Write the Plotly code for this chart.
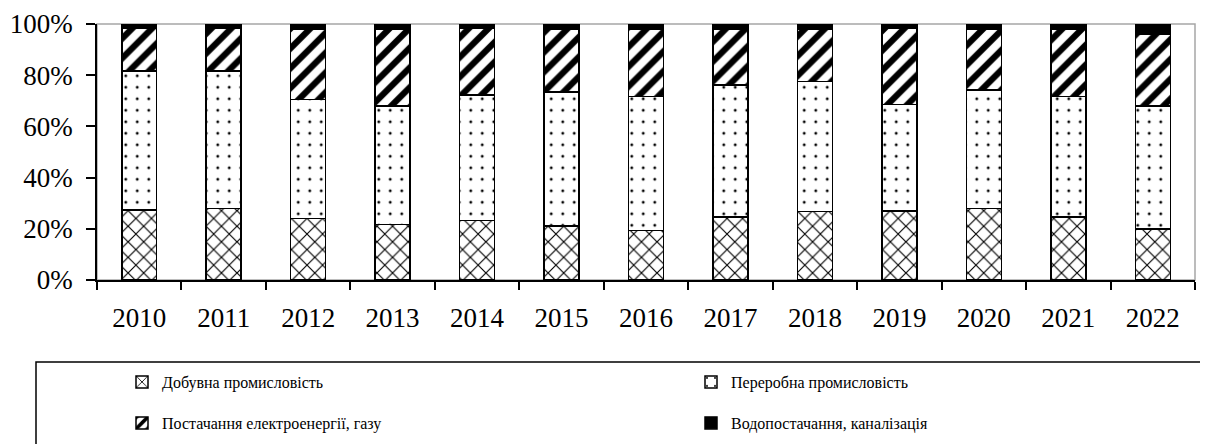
import plotly.graph_objects as go

# years on the x axis
years = ['2010', '2011', '2012', '2013', '2014', '2015', '2016',
         '2017', '2018', '2019', '2020', '2021', '2022']

# shares of each branch, %
mining = [27.3, 28.0, 24.1, 21.7, 23.2, 21.1, 19.3, 24.7, 26.7, 27.0, 28.0, 24.7, 19.9]
manufacturing = [54.3, 53.6, 46.5, 46.3, 49.1, 52.3, 52.3, 51.5, 50.8, 41.6, 46.2, 46.9, 48.1]
energy = [16.7, 16.7, 27.3, 29.9, 26.0, 24.5, 26.3, 21.7, 20.5, 29.7, 23.8, 26.4, 28.0]
water = [1.7, 1.7, 2.1, 2.1, 1.7, 2.1, 2.1, 2.1, 2.0, 1.7, 2.0, 2.0, 4.0]

names = ['Добувна промисловість', 'Переробна промисловість',
         'Постачання електроенергії, газу', 'Водопостачання, каналізація']

FONT = 'Liberation Serif'

fig = go.Figure()

line = dict(color='black', width=1.5)

fig.add_trace(go.Bar(x=years, y=mining, name=names[0], legend='legend',
                     marker=dict(color='white', line=line,
                                 pattern=dict(shape='x', size=11, solidity=0.2,
                                              fgcolor='black', bgcolor='white',
                                              fgopacity=1))))
fig.add_trace(go.Bar(x=years, y=manufacturing, name=names[1], legend='legend2',
                     marker=dict(color='white', line=line,
                                 pattern=dict(shape='.', size=11.5, solidity=0.05,
                                              fgcolor='black', bgcolor='white',
                                              fgopacity=1))))
fig.add_trace(go.Bar(x=years, y=energy, name=names[2], legend='legend3',
                     marker=dict(color='white', line=line,
                                 pattern=dict(shape='/', size=14, solidity=0.45,
                                              fgcolor='black', bgcolor='white',
                                              fgopacity=1))))
fig.add_trace(go.Bar(x=years, y=water, name=names[3], legend='legend4',
                     marker=dict(color='black', line=line)))

# the page has an 8px body margin, so the figure is 8px smaller
# pixel helpers (page coords) for the legend: plot area 97..1195 x 24..280
def px(x):
    return (x - 97) / 1098

def py(y):
    return (280 - y) / 256

leg = dict(font=dict(family=FONT, size=16, color='black'), bgcolor='rgba(0,0,0,0)',
           xanchor='left', yanchor='middle', orientation='h')

fig.update_layout(
    barmode='stack',
    barnorm='percent',
    bargap=0.586,
    width=1200, height=436,
    margin=dict(l=89, r=13, t=16, b=164, autoexpand=False),
    plot_bgcolor='white', paper_bgcolor='white',
    font=dict(family=FONT, size=27, color='black'),
    showlegend=True,
    legend=dict(leg, x=px(122), y=py(382)),
    legend2=dict(leg, x=px(691), y=py(382)),
    legend3=dict(leg, x=px(122), y=py(423)),
    legend4=dict(leg, x=px(691), y=py(423)),
    xaxis=dict(showline=True, linecolor='black', linewidth=1.5, automargin=False,
               ticks='outside', tickson='boundaries', ticklen=8,
               tickcolor='black', tickwidth=1.5, ticklabelstandoff=13),
    yaxis=dict(range=[0, 100], dtick=20, ticksuffix='%', showgrid=False,
               showline=True, linecolor='black', linewidth=1.5, automargin=False,
               ticks='outside', ticklen=9, tickcolor='black', tickwidth=1.5,
               ticklabelstandoff=8, zeroline=False),
    shapes=[
        # grey frame of the plot area
        dict(type='rect', xref='paper', yref='paper', x0=0, x1=1, y0=0, y1=1,
             line=dict(color='#a6a6a6', width=1.5), layer='below'),
        # box around the legend
        dict(type='rect', xref='paper', yref='paper',
             x0=px(36), x1=px(1206), y0=py(362), y1=py(470),
             line=dict(color='black', width=1.5)),
    ],
)

fig.write_html('out.html')
